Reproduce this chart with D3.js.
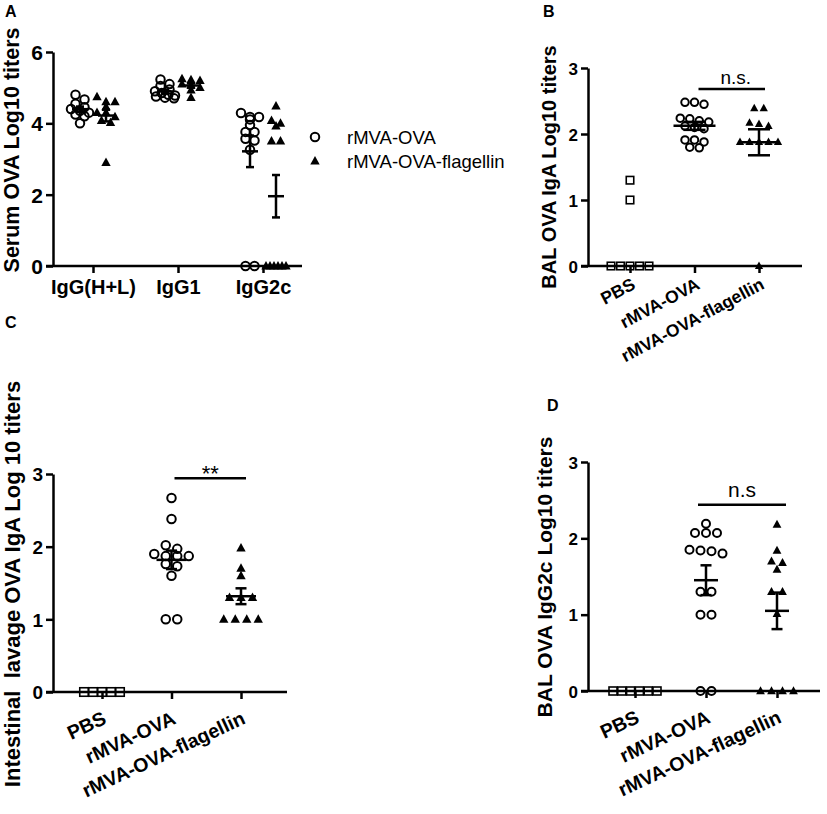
<!DOCTYPE html>
<html>
<head>
<meta charset="utf-8">
<script src="https://cdn.jsdelivr.net/npm/d3@7"></script>
<style>
  body { margin: 0; background: #fff; }
  svg { display: block; }
</style>
</head>
<body>
<div id="fig"></div>
<script>
// Panel A: serum OVA titers by isotype
const isotypes = ['IgG(H+L)', 'IgG1', 'IgG2c'];
const serumHL_ova  = [4.8, 4.67, 4.55, 4.45, 4.4, 4.35, 4.3, 4.25, 4.2, 4.0];
const serumHL_flag = [4.74, 4.6, 4.6, 4.46, 4.3, 4.3, 4.18, 4.08, 4.02, 2.9];
const serumG1_ova  = [5.23, 5.1, 5.05, 4.95, 4.9, 4.85, 4.8, 4.78, 4.75, 4.72, 4.7];
const serumG1_flag = [5.25, 5.22, 5.2, 5.1, 5.07, 5.0, 4.93, 4.72];
const serumG2c_ova  = [4.29, 4.18, 4.18, 4.11, 3.95, 3.76, 3.76, 3.57, 3.52, 3.26, 0, 0];
const serumG2c_flag = [4.48, 4.08, 4.0, 3.92, 3.5, 3.5, 0, 0, 0, 0, 0, 0];
const legendNames = ['rMVA-OVA', 'rMVA-OVA-flagellin'];

// Panels B-D: vaccine groups
const groups = ['PBS', 'rMVA-OVA', 'rMVA-OVA-flagellin'];
// B: BAL IgA
const balIgA_pbs  = [1.3, 1.0, 0, 0, 0, 0, 0];
const balIgA_ova  = [2.48, 2.45, 2.48, 2.23, 2.18, 2.2, 2.24, 2.12, 2.1, 2.08, 1.91, 1.88, 1.79, 1.8, 1.91];
const balIgA_flag = [2.39, 2.39, 2.17, 2.15, 2.12, 1.88, 1.88, 1.88, 1.88, 1.88, 0];
// C: intestinal lavage IgA
const intIgA_pbs  = [0, 0, 0, 0, 0];
const intIgA_ova  = [2.67, 2.38, 2.02, 1.97, 1.9, 1.87, 1.87, 1.87, 1.76, 1.73, 1.6, 1.0, 1.0];
const intIgA_flag = [1.98, 1.7, 1.6, 1.3, 1.3, 1.3, 1.0, 1.0, 1.0, 1.0];
// D: BAL IgG2c
const balG2c_pbs  = [0, 0, 0, 0, 0, 0];
const balG2c_ova  = [2.19, 2.07, 2.07, 2.07, 1.85, 1.84, 1.83, 1.8, 1.3, 1.3, 1.0, 1.0, 0, 0];
const balG2c_flag = [2.18, 1.84, 1.7, 1.68, 1.59, 1.3, 1.3, 1.01, 0, 0, 0, 0];

const FONT = "'Liberation Sans', Arial, Helvetica, sans-serif";

const svg = d3.select('#fig').append('svg')
    .attr('width', 827)
    .attr('height', 814)
    .style('font-family', FONT);
svg.append('rect').attr('width', 827).attr('height', 814).attr('fill', '#fff');

// marker outline for each shape, centred on 0,0
function marker(sel, shape, s) {
    if (shape === 'circle') {
        sel.append('circle').attr('r', s / 2).attr('fill', 'none')
            .attr('stroke', '#000').attr('stroke-width', 2);
    } else if (shape === 'square') {
        sel.append('rect').attr('x', -s / 2).attr('y', -s / 2).attr('width', s).attr('height', s)
            .attr('fill', 'none').attr('stroke', '#000').attr('stroke-width', 1.6);
    } else {
        sel.append('path')
            .attr('d', `M0,${-s * 0.6}L${s * 0.55},${s * 0.4}L${-s * 0.55},${s * 0.4}Z`)
            .attr('fill', '#000');
    }
}

// GraphPad-like scatter: bin close values into rows, centre each row
function spread(vals, y, gap, tol, maxHalf) {
    const pts = vals.map(v => ({ v: v, y: y(v) })).sort((a, b) => a.y - b.y);
    const rows = [];
    pts.forEach(p => {
        const last = rows[rows.length - 1];
        if (last && Math.abs(p.y - last[0].y) < tol) last.push(p);
        else rows.push([p]);
    });
    rows.forEach(r => {
        const k = r.length;
        const sp = k > 1 ? Math.min(gap, 2 * maxHalf / (k - 1)) : 0;
        r.forEach((p, i) => { p.x = (i - (k - 1) / 2) * sp; });
    });
    return pts;
}

function drawPanel(p) {
    const g = svg.append('g');
    const y = d3.scaleLinear().domain([0, p.yMax]).range([p.yBase, p.yTop]);
    const x = d3.scalePoint().domain(p.cats).range(p.tickRange);

    // y axis
    const ay = g.append('g')
        .attr('transform', `translate(${p.axisX},0)`)
        .call(d3.axisLeft(y).tickValues(p.yTicks).tickSize(7).tickSizeOuter(0)
            .tickPadding(3).tickFormat(d3.format('d')));
    ay.attr('font-family', FONT).attr('font-size', p.yTickFont).attr('font-weight', 'bold');
    ay.selectAll('path, line').attr('stroke', '#000').attr('stroke-width', 2.5);
    ay.selectAll('text').attr('fill', '#000').attr('dy', '0.36em');

    // x axis
    const ax = g.append('g')
        .attr('transform', `translate(0,${p.yBase})`)
        .call(d3.axisBottom(x).tickSize(7).tickSizeOuter(0).tickPadding(p.xPad || 7));
    ax.select('.domain').attr('d', `M${p.axisX - 7},0H${p.xEnd}`);
    ax.attr('font-family', FONT).attr('font-size', p.xTickFont).attr('font-weight', 'bold');
    ax.selectAll('path, line').attr('stroke', '#000').attr('stroke-width', 2.5);
    ax.selectAll('text').attr('fill', '#000');
    if (p.rotate) {
        ax.selectAll('.tick text')
            .attr('text-anchor', 'end')
            .attr('x', 0).attr('y', 0).attr('dy', 0)
            .attr('transform', `translate(${p.labelDx},${p.labelDy}) rotate(${p.rotate})`);
    }

    // points, then mean +/- SEM
    p.series.forEach(s => {
        const cx = x(s.cat) + (s.dx || 0);
        const pts = spread(s.vals, y, p.gap, p.tol, p.maxHalf);
        pts.forEach(pt => {
            marker(g.append('g').attr('transform', `translate(${cx + pt.x},${pt.y})`), s.shape, p.size);
        });
        if (s.stats) {
            const m = d3.mean(s.vals);
            const se = d3.deviation(s.vals) / Math.sqrt(s.vals.length);
            const bars = g.append('g').attr('stroke', '#000').attr('stroke-width', 2.5);
            bars.append('line').attr('x1', cx - p.meanW / 2).attr('x2', cx + p.meanW / 2)
                .attr('y1', y(m)).attr('y2', y(m));
            bars.append('line').attr('x1', cx).attr('x2', cx)
                .attr('y1', y(m - se)).attr('y2', y(m + se));
            [m - se, m + se].forEach(v => {
                bars.append('line').attr('x1', cx - p.capW / 2).attr('x2', cx + p.capW / 2)
                    .attr('y1', y(v)).attr('y2', y(v));
            });
        }
    });

    // significance bracket
    if (p.sig) {
        const s = p.sig;
        const x1 = x(s.from) + s.dx1, x2 = x(s.to) + s.dx2, yy = y(s.at);
        g.append('line').attr('x1', x1).attr('x2', x2).attr('y1', yy).attr('y2', yy)
            .attr('stroke', '#000').attr('stroke-width', 2.5);
        g.append('text').attr('x', (x1 + x2) / 2 + (s.tx || 0)).attr('y', yy - s.lift)
            .attr('text-anchor', 'middle').attr('font-size', s.font).text(s.text);
    }

    // y title and panel letter
    g.append('text')
        .attr('transform', `translate(${p.titleX},${p.titleY}) rotate(-90)`)
        .attr('text-anchor', 'middle')
        .attr('font-size', p.titleFont).attr('font-weight', 'bold')
        .style('white-space', 'pre')
        .text(p.title);
    g.append('text').attr('x', p.letter[1]).attr('y', p.letter[2])
        .attr('font-size', 16).attr('font-weight', 'bold').text(p.letter[0]);
    return { g, x, y };
}

// Panel A
drawPanel({
    cats: isotypes, tickRange: [93, 263], axisX: 53, xEnd: 302,
    yMax: 6, yBase: 266, yTop: 52, yTicks: [0, 2, 4, 6],
    yTickFont: 21, xTickFont: 20, xPad: 7, rotate: 0,
    size: 8.5, gap: 9, tol: 5, maxHalf: 10, meanW: 16, capW: 8,
    series: [
        { cat: 'IgG(H+L)', dx: -13, vals: serumHL_ova, shape: 'circle', stats: true },
        { cat: 'IgG(H+L)', dx: 13, vals: serumHL_flag, shape: 'tri', stats: true },
        { cat: 'IgG1', dx: -13, vals: serumG1_ova, shape: 'circle', stats: true },
        { cat: 'IgG1', dx: 13, vals: serumG1_flag, shape: 'tri', stats: true },
        { cat: 'IgG2c', dx: -13, vals: serumG2c_ova, shape: 'circle', stats: true },
        { cat: 'IgG2c', dx: 13, vals: serumG2c_flag, shape: 'tri', stats: true }
    ],
    title: 'Serum OVA Log10 titers', titleX: 19, titleY: 150, titleFont: 21.5,
    letter: ['A', 5, 17]
});

// legend for panel A
const leg = svg.append('g').attr('transform', 'translate(315,137)');
legendNames.forEach((name, i) => {
    const row = leg.append('g').attr('transform', `translate(0,${i * 24})`);
    marker(row, i === 0 ? 'circle' : 'tri', 8.5);
    row.append('text').attr('x', 32).attr('y', 6.5).attr('font-size', 18.5).text(name);
});

// Panel B
drawPanel({
    cats: groups, tickRange: [630, 759], axisX: 588, xEnd: 802,
    yMax: 3, yBase: 266, yTop: 68, yTicks: [0, 1, 2, 3],
    yTickFont: 17, xTickFont: 17.5, rotate: -28, labelDx: 6, labelDy: 22,
    size: 7.5, gap: 9.5, tol: 5, maxHalf: 22, meanW: 42, capW: 22,
    series: [
        { cat: 'PBS', vals: balIgA_pbs, shape: 'square', stats: false },
        { cat: 'rMVA-OVA', vals: balIgA_ova, shape: 'circle', stats: true },
        { cat: 'rMVA-OVA-flagellin', vals: balIgA_flag, shape: 'tri', stats: true }
    ],
    sig: { from: 'rMVA-OVA', to: 'rMVA-OVA-flagellin', dx1: 4, dx2: 6, at: 2.68, text: 'n.s.', font: 19, lift: 5, tx: 4 },
    title: 'BAL OVA IgA Log10 titers', titleX: 556, titleY: 167, titleFont: 20,
    letter: ['B', 543, 17]
});

// Panel C
drawPanel({
    cats: groups, tickRange: [102, 241], axisX: 53, xEnd: 287,
    yMax: 3, yBase: 692, yTop: 474, yTicks: [0, 1, 2, 3],
    yTickFont: 19, xTickFont: 19.5, rotate: -25, labelDx: 5, labelDy: 31,
    size: 8.5, gap: 11.5, tol: 5, maxHalf: 18, meanW: 30, capW: 11,
    series: [
        { cat: 'PBS', vals: intIgA_pbs, shape: 'square', stats: false },
        { cat: 'rMVA-OVA', vals: intIgA_ova, shape: 'circle', stats: true },
        { cat: 'rMVA-OVA-flagellin', vals: intIgA_flag, shape: 'tri', stats: true }
    ],
    sig: { from: 'rMVA-OVA', to: 'rMVA-OVA-flagellin', dx1: 3, dx2: 5, at: 2.94, text: '**', font: 22, lift: -3 },
    title: 'Intestinal  lavage OVA IgA Log 10 titers', titleX: 20, titleY: 584, titleFont: 22,
    letter: ['C', 5, 328]
});

// Panel D
drawPanel({
    cats: groups, tickRange: [635, 777], axisX: 588, xEnd: 820,
    yMax: 3, yBase: 691, yTop: 462, yTicks: [0, 1, 2, 3],
    yTickFont: 17, xTickFont: 19.5, rotate: -25, labelDx: 5, labelDy: 31,
    size: 8, gap: 11, tol: 5, maxHalf: 22, meanW: 24, capW: 11,
    series: [
        { cat: 'PBS', vals: balG2c_pbs, shape: 'square', stats: false },
        { cat: 'rMVA-OVA', vals: balG2c_ova, shape: 'circle', stats: true },
        { cat: 'rMVA-OVA-flagellin', vals: balG2c_flag, shape: 'tri', stats: true }
    ],
    sig: { from: 'rMVA-OVA', to: 'rMVA-OVA-flagellin', dx1: -8, dx2: 9, at: 2.44, text: 'n.s', font: 21, lift: 8 },
    title: 'BAL OVA IgG2c Log10 titers', titleX: 552, titleY: 577, titleFont: 21,
    letter: ['D', 547, 411]
});
</script>
</body>
</html>
